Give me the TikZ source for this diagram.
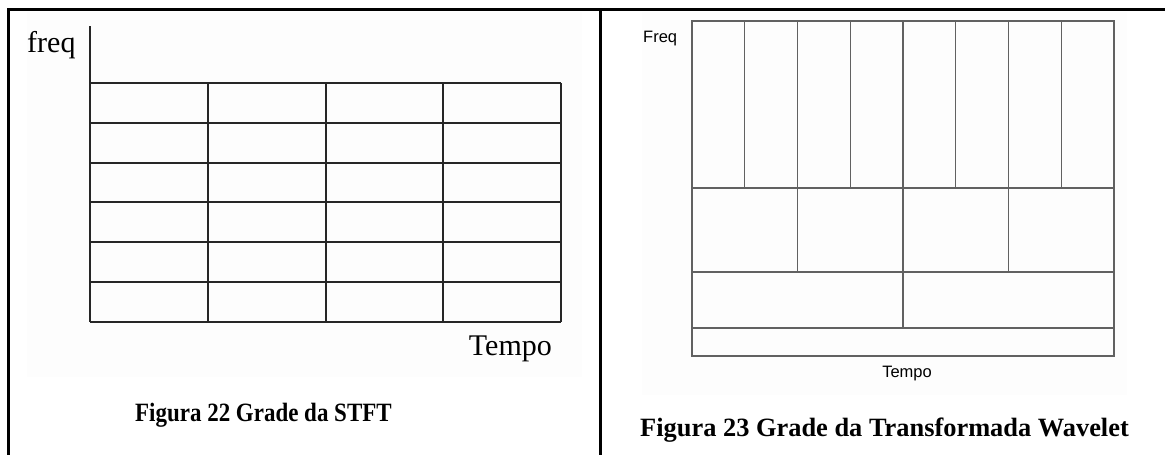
\documentclass[tikz,border=0pt]{standalone}
\usepackage{fontspec}
\setmainfont{Liberation Serif}
\newfontfamily\arialf{Liberation Sans}
\begin{document}
\begin{tikzpicture}[x=1pt,y=-1pt,
  frame/.style={line width=3pt,black},
  stft/.style={line width=2pt,black!85},
  wav/.style={line width=1.1pt,black!62},
  paper/.style={fill=black!0.8},
  serlab/.style={font=\fontsize{30}{32}\selectfont,inner sep=0pt},
  sanslab/.style={font=\arialf\fontsize{16.5}{18}\selectfont,inner sep=0pt},
  capa/.style={font=\bfseries\fontsize{26.4}{29}\selectfont,inner sep=0pt,xscale=0.87},
  capb/.style={font=\bfseries\fontsize{26.4}{29}\selectfont,inner sep=0pt}]
\useasboundingbox (0,0) rectangle (1165,455);
% paper backgrounds
\fill[paper] (27,12) rectangle (582,377);
\fill[paper] (642,12) rectangle (1127,395);
% table frame
\draw[frame] (8,455) -- (8,9) -- (1165,9);
\draw[frame] (600,9) -- (600,455);
% STFT grid
\draw[stft] (90,26) -- (90,322);
\foreach \k in {0,...,6}
  \draw[stft] (90,{83+39.83*\k}) -- (561,{83+39.83*\k});
\foreach \x in {208,326,443,561}
  \draw[stft] (\x,83) -- (\x,322);
\node[serlab,anchor=base west] (freqL) at (27,52) {freq};
\node[serlab,anchor=base east] (tempoL) at (552,355) {Tempo};
\node[capa,anchor=base west] (capL) at (135,421) {Figura 22 Grade da STFT};
% Wavelet grid
\draw[wav] (692,21) rectangle (1114,356);
\foreach \y in {188,272,328}
  \draw[wav] (692,\y) -- (1114,\y);
\foreach \k in {1,...,7}
  \draw[wav] ({692+52.75*\k},21) -- ({692+52.75*\k},188);
\foreach \k in {2,4,6}
  \draw[wav] ({692+52.75*\k},188) -- ({692+52.75*\k},272);
\draw[wav] (903,272) -- (903,328);
\node[sanslab,anchor=base west] (freqR) at (643,42.5) {Freq};
\node[sanslab,anchor=base east] (tempoR) at (932,377) {Tempo};
\node[capb,anchor=base west] (capR) at (640,436) {Figura 23 Grade da Transformada Wavelet};
\end{tikzpicture}
\end{document}
